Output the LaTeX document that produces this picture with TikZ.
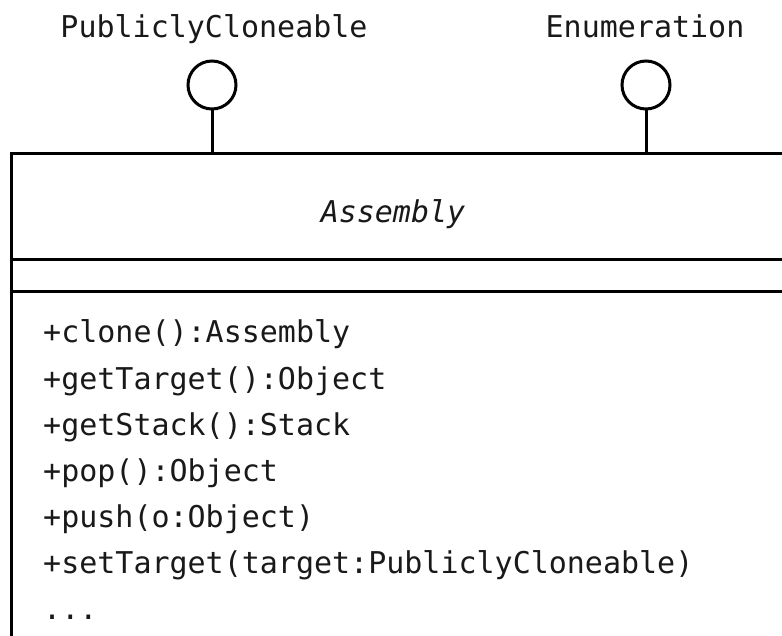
\documentclass[tikz,border=0pt]{standalone}
\usepackage{fontspec}
\newfontfamily\umlfont{DejaVu Sans Mono}
\begin{document}
\begin{tikzpicture}[x=1pt,y=-1pt,
  umltext/.style={inner sep=0pt,font=\umlfont\fontsize{30}{36}\selectfont,text=black!90},
  lollipop/.style={circle,draw,line width=3pt,minimum size=48pt,inner sep=0pt},
  boxline/.style={line width=3pt},
  stem/.style={line width=3pt}]
  \useasboundingbox (0,0) rectangle (782,636);
  \fill[white] (0,0) rectangle (782,636);

  % provided interfaces
  \node[umltext,anchor=base] (lblPC) at (214,38) {PubliclyCloneable};
  \node[umltext,anchor=base] (lblEn) at (645,38) {Enumeration};
  \node[lollipop] (ballPC) at (212,85) {};
  \node[lollipop] (ballEn) at (646,85) {};

  % class box (open to the right and bottom)
  \coordinate (tl) at (11,154);
  \coordinate (tr) at (790,154);
  \coordinate (bl) at (11,645);
  \coordinate (sepA) at (11,260);
  \coordinate (sepAr) at (790,260);
  \coordinate (sepB) at (11,292);
  \coordinate (sepBr) at (790,292);
  \draw[boxline] (tr) -- (tl) -- (bl);
  \draw[boxline] (sepA) -- (sepAr);
  \draw[boxline] (sepB) -- (sepBr);

  \coordinate (jointPC) at (212,154);
  \coordinate (jointEn) at (646,154);
  \draw[stem] (ballPC.south) -- (jointPC);
  \draw[stem] (ballEn.south) -- (jointEn);

  % class name
  \node[umltext,anchor=base,font=\umlfont\itshape\fontsize{30}{36}\selectfont] (name) at (393,223) {Assembly};

  % operations
  \node[umltext,anchor=base west] (op1) at (43,343) {+clone():Assembly};
  \node[umltext,anchor=base west] (op2) at (43,389) {+getTarget():Object};
  \node[umltext,anchor=base west] (op3) at (43,435) {+getStack():Stack};
  \node[umltext,anchor=base west] (op4) at (43,481) {+pop():Object};
  \node[umltext,anchor=base west] (op5) at (43,527) {+push(o:Object)};
  \node[umltext,anchor=base west] (op6) at (43,573) {+setTarget(target:PubliclyCloneable)};
  \node[umltext,anchor=base west] (op7) at (43,619) {...};
\end{tikzpicture}
\end{document}
